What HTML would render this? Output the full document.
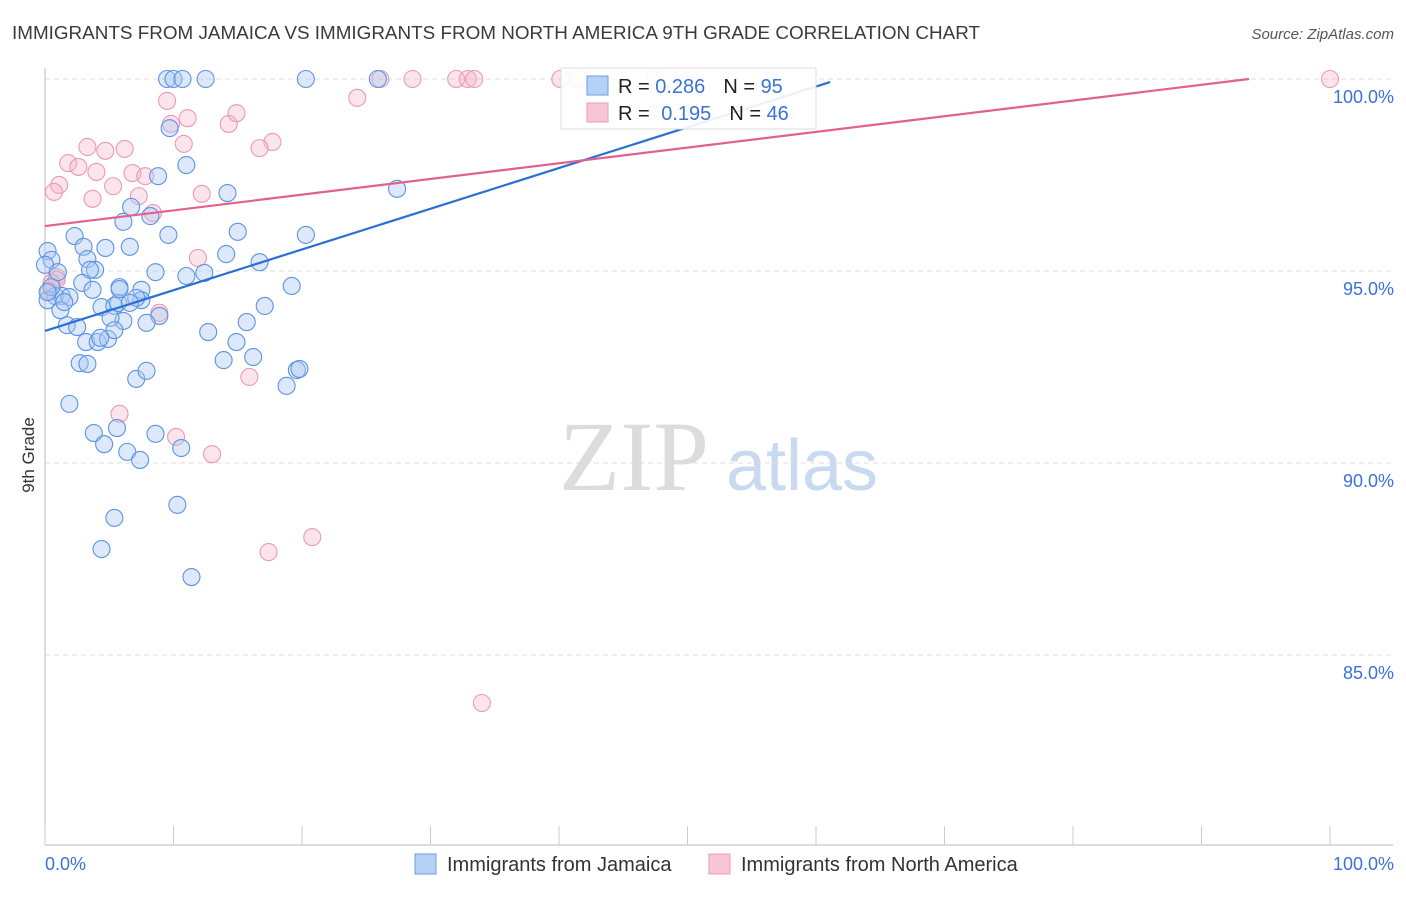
<!DOCTYPE html>
<html><head><meta charset="utf-8"><style>
body{margin:0;background:#fff;font-family:"Liberation Sans",sans-serif}
</style></head><body>
<svg id="chart" width="1406" height="892" xmlns="http://www.w3.org/2000/svg" font-family="Liberation Sans, sans-serif">
<text x="12" y="39" font-size="18" fill="#3a3a3a" textLength="968" lengthAdjust="spacingAndGlyphs">IMMIGRANTS FROM JAMAICA VS IMMIGRANTS FROM NORTH AMERICA 9TH GRADE CORRELATION CHART</text>
<text x="1394" y="39" font-size="15" fill="#555" text-anchor="end" font-style="italic">Source: ZipAtlas.com</text>
<g>
<text x="634" y="490" font-size="100" fill="#dcdcdc" text-anchor="middle" style="font-family:'Liberation Serif',serif">ZIP</text>
<text x="802" y="490" font-size="72" fill="#c9d9f0" text-anchor="middle">atlas</text>
</g>
<g id="grid"></g>
<g id="axes"></g>
<g id="marks"></g>
<g>
<rect x="561" y="68" width="255" height="61" fill="#fff" fill-opacity="0.9" stroke="#ddd"/>
<rect x="587" y="76" width="21" height="19" fill="#b5d0f5" stroke="#6a9ee6"/>
<rect x="587" y="103" width="21" height="19" fill="#f9c6d5" stroke="#ec9ab3"/>
<text x="618" y="93" font-size="20" fill="#222">R = <tspan fill="#3a72d8">0.286</tspan><tspan dx="18">N = </tspan><tspan fill="#3a72d8">95</tspan></text>
<text x="618" y="120" font-size="20" fill="#222">R = <tspan dx="6" fill="#3a72d8">0.195</tspan><tspan dx="18">N = </tspan><tspan fill="#3a72d8">46</tspan></text>
</g>
<text transform="translate(34,455) rotate(-90)" font-size="17" fill="#333" text-anchor="middle">9th Grade</text>
<text x="45" y="870" font-size="18" fill="#3a72d8">0.0%</text>
<text x="1394" y="870" font-size="18" fill="#3a72d8" text-anchor="end">100.0%</text>
<g>
<rect x="415" y="854" width="21" height="20" fill="#b5d0f5" stroke="#6a9ee6"/>
<text x="447" y="871" font-size="20" fill="#333">Immigrants from Jamaica</text>
<rect x="709" y="854" width="21" height="20" fill="#f9c6d5" stroke="#ec9ab3"/>
<text x="741" y="871" font-size="20" fill="#333">Immigrants from North America</text>
</g>
</svg>
<script>
const yTicks=[85,90,95,100];
const yTickLabels=["85.0%","90.0%","95.0%","100.0%"];
const xTicks=[0,10,20,30,40,50,60,70,80,90,100];
const blueX=[9.5,10.0,10.7,12.5,20.3,25.9,9.7,11.0,8.8,14.2,27.4,6.7,6.1,8.2,9.6,15.0,20.3,0.2,2.3,3.0,4.7,0.5,3.3,0.0,3.9,3.5,8.6,11.0,12.4,16.7,14.1,2.9,3.7,5.8,7.5,19.2,0.8,1.3,1.9,4.4,5.4,5.7,7.5,7.1,17.1,8.9,7.9,6.1,5.1,1.7,2.5,0.2,1.2,3.2,4.1,4.9,5.4,12.7,14.9,15.7,16.2,13.9,2.7,3.3,7.1,7.9,19.6,19.8,18.8,1.9,3.8,5.6,8.6,10.6,4.6,6.4,7.4,10.3,5.4,4.4,11.4,0.5,1.0,6.6,0.2,1.5,4.3,6.6,5.8];
const blueY=[100,100,100,100,100,100,98.72,97.76,97.47,97.03,97.14,96.67,96.28,96.43,95.94,96.02,95.94,95.52,95.91,95.63,95.60,95.29,95.31,95.16,95.03,95.03,94.97,94.87,94.95,95.23,95.44,94.69,94.51,94.58,94.51,94.61,94.35,94.35,94.32,94.06,94.09,94.17,94.24,94.30,94.09,93.83,93.65,93.70,93.78,93.59,93.54,94.24,93.98,93.15,93.15,93.23,93.46,93.41,93.15,93.67,92.76,92.68,92.60,92.58,92.19,92.40,92.42,92.45,92.01,91.54,90.78,90.91,90.76,90.39,90.49,90.29,90.08,88.91,88.57,87.76,87.03,94.58,94.97,95.63,94.45,94.19,93.26,94.17,94.53];
const pinkX=[26.1,28.6,32.0,32.9,33.4,40.1,41.6,47.5,100,24.3,9.5,11.1,9.8,14.3,14.9,17.7,16.7,10.8,3.3,4.7,6.2,1.8,2.6,4.0,5.3,1.1,0.7,6.8,7.8,3.7,7.3,8.4,12.2,0.9,0.9,11.9,8.9,15.9,5.8,10.2,13.0,17.4,20.8,34.0,0.3,0.5];
const pinkY=[100,100,100,100,100,100,100,100,100,99.51,99.43,98.98,98.83,98.83,99.11,98.36,98.20,98.31,98.23,98.13,98.18,97.81,97.71,97.58,97.21,97.24,97.06,97.55,97.47,96.88,96.95,96.51,97.01,94.84,94.77,95.34,93.91,92.24,91.28,90.68,90.23,87.68,88.07,83.75,94.48,94.69];
const blueTrend=[0,93.44,61.1,99.92];
const pinkTrend=[0,96.17,93.7,100];
const NS="http://www.w3.org/2000/svg";
const X=v=>45+v*12.85, Y=v=>79+(100-v)*38.4;
function mk(t,a,p){const e=document.createElementNS(NS,t);for(const k in a)e.setAttribute(k,a[k]);p.appendChild(e);return e;}
const grid=document.getElementById('grid'),axes=document.getElementById('axes'),marks=document.getElementById('marks');
yTicks.forEach((t,i)=>{
 const l=mk('line',{x1:45,x2:1393,y1:Y(t),y2:Y(t),stroke:'#ddd','stroke-dasharray':'5,4'},grid);
 
 
 const tx=mk('text',{x:1394,y:Y(t)+24,'font-size':18,fill:'#3a72d8','text-anchor':'end'},axes);
 tx.textContent=yTickLabels[i];
 
 
});
const ya=mk('line',{x1:45,x2:45,y1:68,y2:845,stroke:'#bbb'},axes);


const xa=mk('line',{x1:45,x2:1393,y1:845,y2:845,stroke:'#bbb'},axes);


xTicks.forEach(t=>{
 const l=mk('line',{x1:X(t),x2:X(t),y1:826,y2:845,stroke:'#ccc'},axes);
 
 
});
pinkX.forEach((v,i)=>{
 const c=mk('circle',{cx:X(v),cy:Y(pinkY[i]),r:8.5,fill:'#f7b3c8','fill-opacity':0.35,stroke:'#ec9ab3','stroke-width':1.1},marks);
 
 
});
blueX.forEach((v,i)=>{
 const c=mk('circle',{cx:X(v),cy:Y(blueY[i]),r:8.5,fill:'#a9c8f2','fill-opacity':0.4,stroke:'#5b94e2','stroke-width':1.1},marks);
 
 
});
const bl=mk('line',{x1:X(blueTrend[0]),y1:Y(blueTrend[1]),x2:X(blueTrend[2]),y2:Y(blueTrend[3]),stroke:'#2a6fd6','stroke-width':2.2},marks);


const pl=mk('line',{x1:X(pinkTrend[0]),y1:Y(pinkTrend[1]),x2:X(pinkTrend[2]),y2:Y(pinkTrend[3]),stroke:'#e4608c','stroke-width':2.2},marks);


</script>
</body></html>
